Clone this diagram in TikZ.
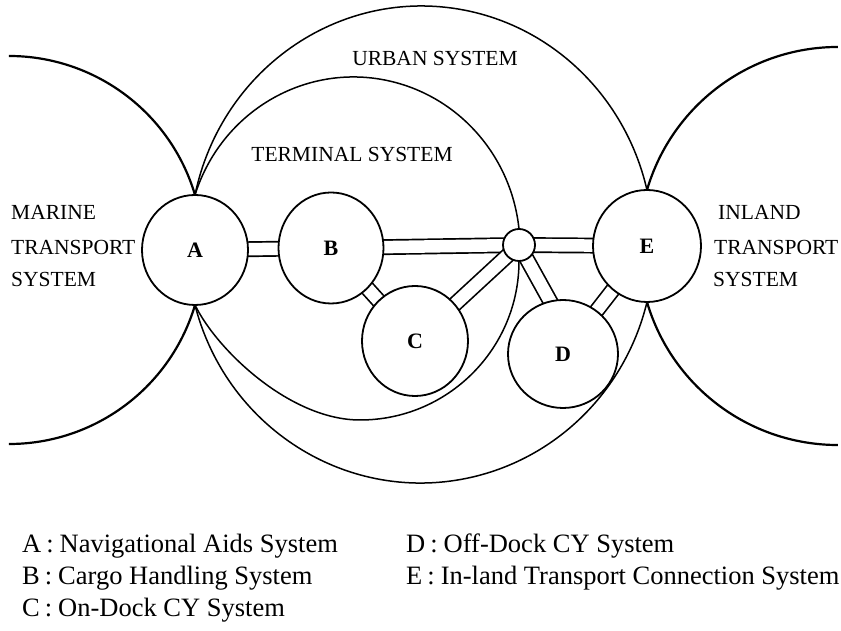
\documentclass[tikz,border=0pt]{standalone}
\usepackage{fontspec}
\setmainfont{Liberation Serif}
\usetikzlibrary{shapes.geometric,calc,backgrounds}
\newcommand{\legsep}{\hspace{5pt}:\hspace{6pt}}
\begin{document}
\begin{tikzpicture}[x=1pt,y=1pt,
  sysnode/.style={ellipse, draw, line width=1.8pt, fill=white, inner sep=0pt, outer sep=0pt,
                  font=\fontsize{22}{26}\selectfont\bfseries},
  hub/.style={circle, draw, line width=1.8pt, fill=white, inner sep=0pt, outer sep=0pt, minimum size=32pt},
  conn/.style={double=white, double distance=12.5pt, line width=1.7pt},
  bound/.style={line width=1.5pt},
  outerarc/.style={line width=2.2pt},
  lbl/.style={font=\fontsize{21.5}{26}\selectfont, inner sep=0pt},
  leg/.style={font=\fontsize{26.5}{30}\selectfont, anchor=base west, inner sep=0pt}
]
\useasboundingbox (0,0) rectangle (841,631);

% subsystem nodes
\node[sysnode, minimum width=106pt, minimum height=110pt] (A) at (195,381) {A};
\node[sysnode, minimum width=105pt, minimum height=111pt] (B) at (331,383) {B};
\node[sysnode, minimum width=106pt, minimum height=110pt] (C) at (415,290) {C};
\node[sysnode, minimum width=110pt, minimum height=108pt] (D) at (563,277) {D};
\node[sysnode, minimum width=108pt, minimum height=112pt] (E) at (647,385) {E};
\node[hub] (S) at (519,386) {};

% connectors (behind the nodes)
\begin{scope}[on background layer]
  \coordinate (Dp) at ($(D.center)+(-13,53)$);
  \draw[conn] (A.center) -- (B.center);
  \draw[conn] (B.center) -- (S.center);
  \draw[conn] (S.center) -- (E.center);
  \draw[conn] (B.center) -- (C.center);
  \draw[conn] (S.center) -- (C.center);
  \draw[conn] (S.center) -- ($(S.center)!1.6!(Dp)$);
  \draw[conn] (E.center) -- (D.center);
\end{scope}

% marine transport system
\draw[outerarc] (A.north) arc[start angle=16.47, end angle=90, radius=194pt];
\draw[outerarc] (A.south) arc[start angle=-16.47, end angle=-90, radius=194pt];
% inland transport system
\draw[outerarc] (E.north) arc[start angle=163.66, end angle=90, radius=199pt];
\draw[outerarc] (E.south) arc[start angle=196.34, end angle=270, radius=199pt];
% urban system
\draw[bound] (A.north) arc[start angle=167.92, end angle=13.30, x radius=231.67pt, y radius=239pt];
\draw[bound] (A.south) arc[start angle=194.60, end angle=346.14, x radius=233.16pt, y radius=238pt];
% terminal system
\draw[bound] (A.north) arc[start angle=162.19, end angle=6.08, x radius=166.46pt, y radius=170pt];
\draw[bound] (S.south) arc[start angle=0, end angle=-90, radius=159pt]
   .. controls +(-70,0) and +(21.9,-45) .. (A.south);

% system labels
\node[lbl] (urb) at (435,573) {URBAN SYSTEM};
\node[lbl] (ter) at (352,477) {TERMINAL SYSTEM};
\node[lbl, anchor=base west] (m1) at (11,411) {MARINE};
\node[lbl, anchor=base west] (m2) at (11,376) {TRANSPORT};
\node[lbl, anchor=base west] (m3) at (11,344) {SYSTEM};
\node[lbl, anchor=base west] (i1) at (718,411) {INLAND};
\node[lbl, anchor=base west] (i2) at (714,376) {TRANSPORT};
\node[lbl, anchor=base west] (i3) at (713,344) {SYSTEM};

% legend
\node[leg] (lA) at (22,78) {A\legsep Navigational Aids System};
\node[leg] (lB) at (22,46) {B\legsep Cargo Handling System};
\node[leg] (lC) at (22,14) {C\legsep On-Dock CY System};
\node[leg] (lD) at (406,78) {D\legsep Off-Dock CY System};
\node[leg] (lE) at (406,46) {E\legsep In-land Transport Connection System};
\end{tikzpicture}
\end{document}
